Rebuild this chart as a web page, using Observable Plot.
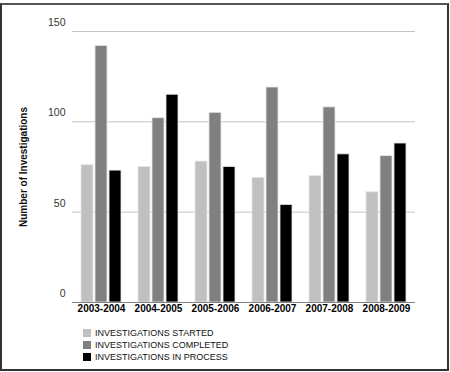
<!DOCTYPE html>
<html>
<head>
<meta charset="utf-8">
<script src="https://cdn.jsdelivr.net/npm/d3@7"></script>
<script src="https://cdn.jsdelivr.net/npm/@observablehq/plot@0.6"></script>
<style>
  body { margin: 0; background: #fff; font-family: "Liberation Sans", Arial, sans-serif; }
  #frame { position: absolute; left: 0; top: 3px; width: 449px; height: 368px; box-sizing: border-box;
           border: 2px solid #333; border-top-color: #555; }
  #chart { position: absolute; left: 0; top: 0; }
  #legend { position: absolute; left: 83px; top: 327px; font-size: 9px; color: #111; }
  .row { height: 12px; display: flex; align-items: center; }
  .sw { width: 8px; height: 8px; margin-right: 4px; }
</style>
</head>
<body>
<div id="frame"></div>
<div id="chart"></div>
<div id="legend"></div>
<script>
const years = ["2003-2004", "2004-2005", "2005-2006", "2006-2007", "2007-2008", "2008-2009"];
const series = ["INVESTIGATIONS STARTED", "INVESTIGATIONS COMPLETED", "INVESTIGATIONS IN PROCESS"];
const colors = ["#c0c0c0", "#808080", "#000000"];
const started = [76, 75, 78, 69, 70, 61];
const completed = [142, 102, 105, 119, 108, 81];
const inProcess = [73, 115, 75, 54, 82, 88];
const yTicks = [0, 50, 100, 150];
const yTitle = "Number of Investigations";

const valuesBySeries = [started, completed, inProcess];
const data = [];
years.forEach((yr, i) => series.forEach((s, j) => data.push({year: yr, series: s, value: valuesBySeries[j][i]})));

const chart = Plot.plot({
  width: 450,
  height: 320,
  marginTop: 31,
  marginBottom: 18,
  marginLeft: 70,
  marginRight: 32,
  style: {fontFamily: "'Liberation Sans', Arial, sans-serif", background: "transparent"},
  fx: {domain: years, paddingInner: 0.259, paddingOuter: 0.138, label: null},
  x: {domain: series, paddingInner: 0.133, paddingOuter: 0, axis: null},
  y: {domain: [0, 150], axis: null},
  color: {domain: series, range: colors},
  marks: [
    Plot.ruleY(yTicks.filter(d => d > 0), {stroke: "#c4c4c4", insetLeft: -8, insetRight: -8}),
    Plot.barY(data, {fx: "year", x: "series", y: "value", fill: "series", stroke: "#e6e6e6", strokeWidth: 0.8}),
    Plot.ruleY([0], {stroke: "#808080", insetLeft: -8, insetRight: -8}),
    Plot.axisY(yTicks, {tickSize: 0, tickPadding: 15, dy: -9, fontSize: 10.5, fill: "#333", label: null}),
    Plot.axisY([], {tickSize: 0, label: yTitle, labelAnchor: "center", labelArrow: "none", labelOffset: 61, fontWeight: "bold", fontSize: 10, fill: "#111"}),
    Plot.axisFx({anchor: "bottom", tickSize: 0, tickPadding: 2, fontSize: 10, fontWeight: "bold", fill: "#000", label: null})
  ]
});
document.getElementById("chart").appendChild(chart);

const legend = document.getElementById("legend");
series.forEach((s, j) => {
  const row = document.createElement("div");
  row.className = "row";
  const sw = document.createElement("div");
  sw.className = "sw";
  sw.style.background = colors[j];
  const t = document.createElement("span");
  t.textContent = s;
  row.appendChild(sw);
  row.appendChild(t);
  legend.appendChild(row);
});
</script>
</body>
</html>
